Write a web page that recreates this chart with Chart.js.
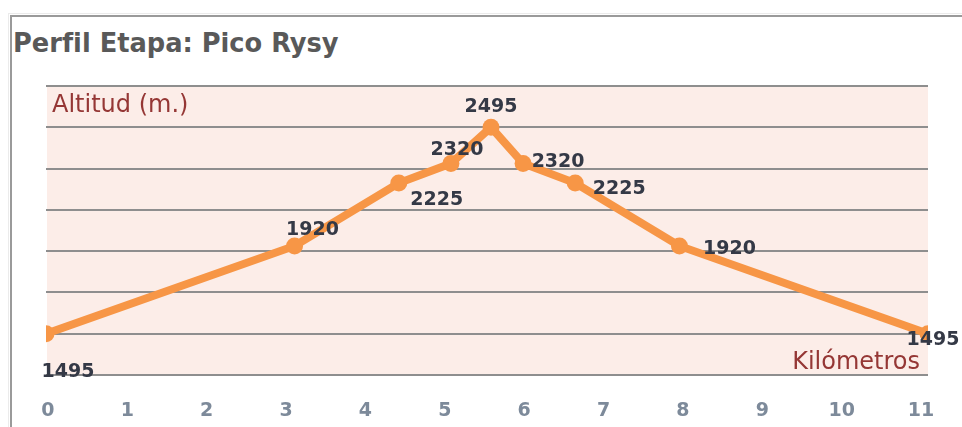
<!DOCTYPE html>
<html lang="es">
<head>
    <meta charset="UTF-8">
    <title>Perfil Etapa: Pico Rysy</title>
    <style>
        html, body { margin: 0; padding: 0; background: #fff; }
        body { width: 962px; height: 427px; position: relative; overflow: hidden; }
        .frame-outer { position: absolute; left: 8px; top: 13px; right: 0; bottom: 0;
            border-top: 1px solid #ebebeb; border-left: 1px solid #ebebeb; }
        .frame { position: absolute; left: 10px; top: 15px; right: 0; bottom: 0;
            border-top: 2px solid #9a9a9a; border-left: 2px solid #9a9a9a; }
        .title { position: absolute; left: 13px; top: 30px; margin: 0;
            font: bold 25.7px/26px "DejaVu Sans", Verdana, sans-serif; color: #595959; white-space: nowrap; }
        canvas { position: absolute; left: 0; top: 0; }
    </style>
</head>
<body>
    <div class="frame-outer"></div>
    <div class="frame"></div>
    <h1 class="title">Perfil Etapa: Pico Rysy</h1>
    <canvas id="myChart" width="962" height="427"></canvas>

    <script src="https://cdn.jsdelivr.net/npm/chart.js@4.4.0/dist/chart.umd.min.js"></script>
    <script>
        // profile data
        var kilometros = [0, 3.1, 4.4, 5.05, 5.55, 5.95, 6.6, 7.9, 11];
        var altitudes = [1495, 1920, 2225, 2320, 2495, 2320, 2225, 1920, 1495];
        var kmTicks = [0, 1, 2, 3, 4, 5, 6, 7, 8, 9, 10, 11];

        // where each value label sits relative to its point (dx, dy of the text centre)
        var labelOffsets = [[22, 36], [18, -18], [38, 15], [6, -15], [0, -22],
                            [35, -3], [44, 4], [50, 1], [5, 4]];

        var points = [];
        for (var i = 0; i < kilometros.length; i++) {
            points.push({ x: kilometros[i], y: altitudes[i] });
        }

        var plotBackground = {
            id: 'plotBackground',
            beforeDraw: function (chart) {
                var a = chart.chartArea;
                var ctx = chart.ctx;
                ctx.save();
                ctx.fillStyle = '#fcede8';
                ctx.fillRect(a.left + 1, a.top, a.right - a.left - 1, a.bottom - a.top);
                ctx.restore();
            }
        };

        var textLabels = {
            id: 'textLabels',
            afterDatasetsDraw: function (chart) {
                var ctx = chart.ctx;
                var a = chart.chartArea;
                var meta = chart.getDatasetMeta(0);
                ctx.save();

                // axis captions inside the plot
                ctx.fillStyle = '#953735';
                ctx.font = '24px "DejaVu Sans", sans-serif';
                ctx.textBaseline = 'alphabetic';
                ctx.textAlign = 'left';
                ctx.fillText('Altitud (m.)', a.left + 6, a.top + 26);
                ctx.textAlign = 'right';
                ctx.fillText('Kilómetros', a.right - 8, a.bottom - 6);

                // value labels
                ctx.fillStyle = '#343946';
                ctx.font = 'bold 19px "DejaVu Sans", sans-serif';
                ctx.textAlign = 'center';
                meta.data.forEach(function (pt, i) {
                    var off = labelOffsets[i];
                    ctx.fillText(String(altitudes[i]), pt.x + off[0], pt.y + off[1] + 7);
                });
                ctx.restore();
            }
        };

        function noPad(s) {
            s.paddingLeft = 0;
            s.paddingRight = 0;
        }

        function createChart() {
            var ctx = document.getElementById('myChart').getContext('2d');
            new Chart(ctx, {
                type: 'line',
                data: {
                    datasets: [{
                        data: points,
                        xAxisID: 'x',
                        borderColor: '#f79646',
                        backgroundColor: '#f79646',
                        borderWidth: 8,
                        pointRadius: 8.5,
                        pointBorderWidth: 0,
                        pointBackgroundColor: '#f79646',
                        tension: 0,
                        fill: false
                    }]
                },
                options: {
                    responsive: false,
                    animation: false,
                    devicePixelRatio: 1,
                    layout: { padding: { left: 46, right: 34, top: 86, bottom: 0 } },
                    plugins: {
                        legend: { display: false },
                        tooltip: { enabled: false },
                        title: { display: false }
                    },
                    scales: {
                        // data axis, no labels of its own
                        x: {
                            type: 'linear',
                            min: 0,
                            max: 11,
                            afterFit: function (s) { s.height = 0; noPad(s); },
                            grid: { display: false, drawTicks: false },
                            border: { display: false },
                            ticks: { display: false }
                        },
                        // the km labels sit a little inside the plot ends, as in the original
                        km: {
                            type: 'linear',
                            position: 'bottom',
                            min: -0.025,
                            max: 11.088,
                            afterFit: function (s) { s.height = 52; noPad(s); },
                            afterBuildTicks: function (s) {
                                s.ticks = kmTicks.map(function (v) { return { value: v }; });
                            },
                            grid: { display: false, drawTicks: false },
                            border: { display: false },
                            ticks: {
                                autoSkip: false,
                                maxRotation: 0,
                                padding: 25,
                                color: '#7d8a9a',
                                font: { family: '"DejaVu Sans", sans-serif', size: 19, weight: 'bold' }
                            }
                        },
                        y: {
                            min: 1295,
                            max: 2695,
                            afterFit: function (s) {
                                s.width = 0;
                                s.paddingTop = 0;
                                s.paddingBottom = 0;
                            },
                            grid: { color: '#8e8e8e', lineWidth: 2, drawTicks: false },
                            border: { display: false },
                            ticks: { display: false, stepSize: 200 }
                        }
                    }
                },
                plugins: [plotBackground, textLabels]
            });
        }

        createChart();
    </script>
</body>
</html>
